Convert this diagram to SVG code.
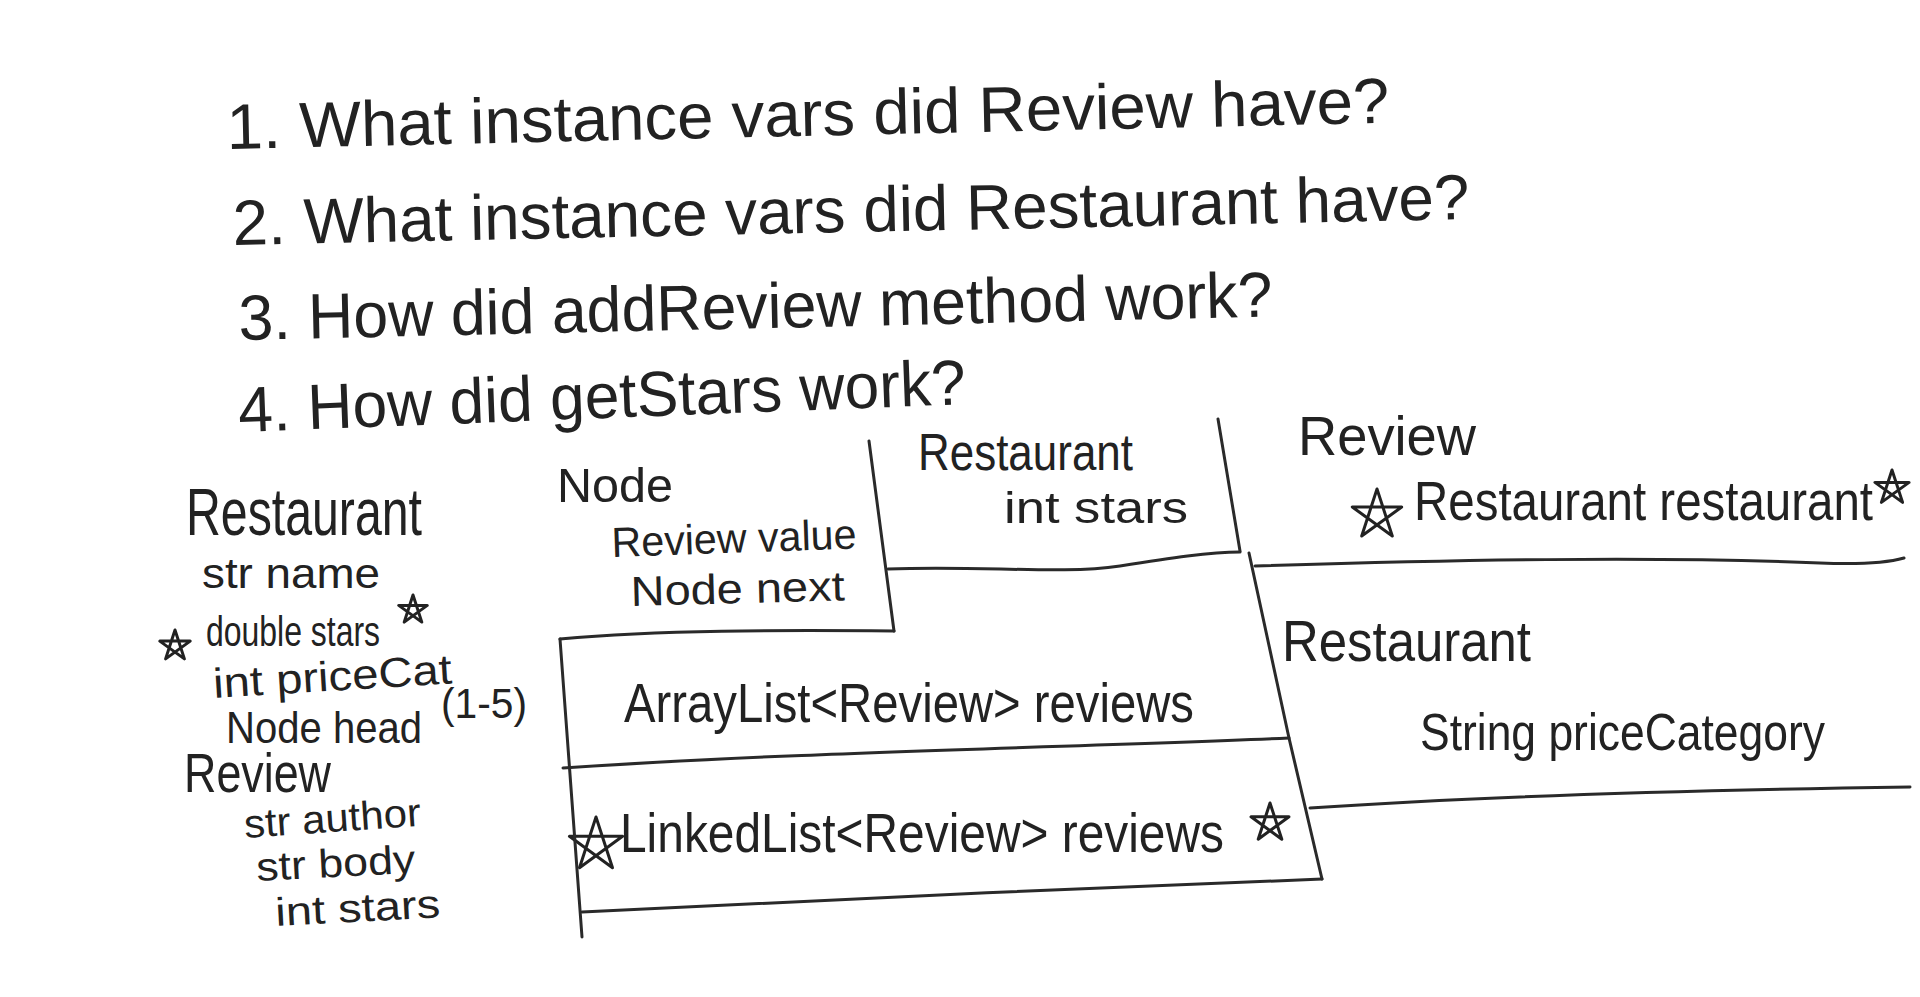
<svg xmlns="http://www.w3.org/2000/svg" width="1920" height="997" viewBox="0 0 1920 997">
<style>
text{font-family:"Liberation Sans","DejaVu Sans",sans-serif;fill:#222;}
.ln{fill:none;stroke:#2a2a2a;stroke-width:3;stroke-linecap:round;stroke-linejoin:round;}
.st{fill:none;stroke:#222;stroke-width:3;stroke-linejoin:round;}
</style>
<rect width="1920" height="997" fill="#fff"/>
<g id="questions">
<text x="227" y="149" font-size="64" textLength="1163" lengthAdjust="spacingAndGlyphs" transform="rotate(-1.3 227 149)">1. What instance vars did Review have?</text>
<text x="233" y="245" font-size="64" textLength="1237" lengthAdjust="spacingAndGlyphs" transform="rotate(-1.2 233 245)">2. What instance vars did Restaurant have?</text>
<text x="239" y="340" font-size="64" textLength="1034" lengthAdjust="spacingAndGlyphs" transform="rotate(-1.3 239 340)">3. How did addReview method work?</text>
<text x="239" y="432" font-size="64" textLength="728" lengthAdjust="spacingAndGlyphs" transform="rotate(-2.2 239 432)">4. How did getStars work?</text>
</g>
<g id="left-list">
<text x="186" y="535" font-size="66" textLength="236" lengthAdjust="spacingAndGlyphs">Restaurant</text>
<text x="202" y="588" font-size="42" textLength="178" lengthAdjust="spacingAndGlyphs">str name</text>
<path class="st" d="M175 630 L184.4 658.9 L159.8 641.1 L190.2 641.1 L165.6 658.9 Z"/>
<text x="206" y="646" font-size="42" textLength="174" lengthAdjust="spacingAndGlyphs">double stars</text>
<path class="st" d="M413 595 L421.8 622.1 L398.7 605.4 L427.3 605.4 L404.2 622.1 Z"/>
<text x="214" y="698" font-size="42" textLength="239" lengthAdjust="spacingAndGlyphs" transform="rotate(-3.5 214 698)">int priceCat</text>
<text x="226" y="743" font-size="44" textLength="196" lengthAdjust="spacingAndGlyphs">Node head</text>
<text x="441" y="718" font-size="42" textLength="86" lengthAdjust="spacingAndGlyphs">(1-5)</text>
<text x="184" y="792" font-size="56" textLength="147" lengthAdjust="spacingAndGlyphs">Review</text>
<text x="245" y="838" font-size="40" textLength="177" lengthAdjust="spacingAndGlyphs" transform="rotate(-4 245 838)">str author</text>
<text x="257" y="881" font-size="40" textLength="159" lengthAdjust="spacingAndGlyphs" transform="rotate(-3 257 881)">str body</text>
<text x="276" y="926" font-size="40" textLength="165" lengthAdjust="spacingAndGlyphs" transform="rotate(-3 276 926)">int stars</text>
</g>
<g id="node-box">
<text x="557" y="502" font-size="48" textLength="116" lengthAdjust="spacingAndGlyphs">Node</text>
<text x="612" y="557" font-size="42" textLength="245" lengthAdjust="spacingAndGlyphs" transform="rotate(-2 612 557)">Review value</text>
<text x="631" y="606" font-size="42" textLength="214" lengthAdjust="spacingAndGlyphs" transform="rotate(-1.5 631 606)">Node next</text>
</g>
<g id="restaurant-box">
<text x="918" y="470" font-size="52" textLength="215" lengthAdjust="spacingAndGlyphs">Restaurant</text>
<text x="1004" y="523" font-size="44" textLength="184" lengthAdjust="spacingAndGlyphs">int stars</text>
</g>
<g id="list-box">
<text x="624" y="722" font-size="56" textLength="570" lengthAdjust="spacingAndGlyphs">ArrayList&lt;Review&gt; reviews</text>
<path class="st" d="M596 817 L612.5 867.7 L569.4 836.3 L622.6 836.3 L579.5 867.7 Z"/>
<text x="620" y="852" font-size="56" textLength="604" lengthAdjust="spacingAndGlyphs">LinkedList&lt;Review&gt; reviews</text>
<path class="st" d="M1270 803 L1281.8 839.2 L1251 816.8 L1289 816.8 L1258.2 839.2 Z"/>
</g>
<g id="review-right">
<text x="1298" y="455" font-size="56" textLength="178" lengthAdjust="spacingAndGlyphs">Review</text>
<path class="st" d="M1377 489 L1392.3 536 L1352.3 507 L1401.7 507 L1361.7 536 Z"/>
<text x="1414" y="520" font-size="56" textLength="459" lengthAdjust="spacingAndGlyphs">Restaurant restaurant</text>
<path class="st" d="M1892 470 L1902.6 502.4 L1874.9 482.4 L1909.1 482.4 L1881.4 502.4 Z"/>
</g>
<g id="restaurant-right">
<text x="1282" y="661" font-size="58" textLength="249" lengthAdjust="spacingAndGlyphs">Restaurant</text>
<text x="1420" y="750" font-size="52" textLength="405" lengthAdjust="spacingAndGlyphs">String priceCategory</text>
</g>
<g id="connectors">
<path class="ln" d="M869 441 L894 631"/>
<path class="ln" d="M560 639 C660 630 780 630 894 631"/>
<path class="ln" d="M1218 419 L1240 551"/>
<path class="ln" d="M888 569 C980 565 1060 575 1120 566 C1170 558 1210 552 1240 552"/>
<path class="ln" d="M1249 553 L1289 738 L1322 879"/>
<path class="ln" d="M560 639 L582 937"/>
<path class="ln" d="M563 768 C800 752 1050 748 1289 738"/>
<path class="ln" d="M582 912 C820 900 1080 888 1322 879"/>
<path class="ln" d="M1255 566 C1450 560 1650 556 1820 563 C1870 565 1890 562 1904 558"/>
<path class="ln" d="M1310 808 C1500 795 1700 790 1910 787"/>
</g>
</svg>
